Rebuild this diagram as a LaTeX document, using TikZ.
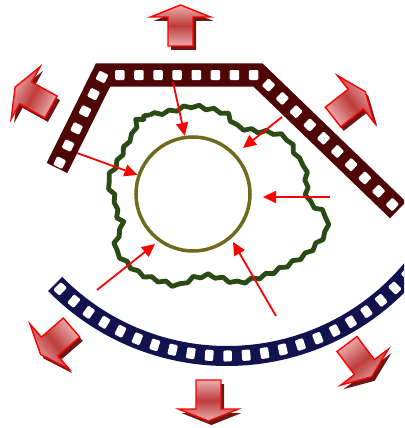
\documentclass[tikz,border=0pt]{standalone}
\usetikzlibrary{arrows.meta,decorations.markings,decorations.pathmorphing}
\definecolor{maroonband}{HTML}{4F0606}
\definecolor{navyband}{HTML}{12124E}
\definecolor{blobgreen}{HTML}{2A4A16}
\definecolor{coreolive}{HTML}{6E6A1E}
\definecolor{arrlight}{HTML}{EBB0B0}
\definecolor{arrdark}{HTML}{BE3C3C}
\definecolor{arrshadow}{HTML}{6A1818}
\tikzset{
  hole/.style 2 args={fill=white, rounded corners=1.2pt, minimum width=#1, minimum height=#2, inner sep=0pt, transform shape},
  thinarrow/.style={draw=red, line width=1.8pt, -{Triangle[length=13pt,width=12pt]}},
  corering/.style={draw=coreolive, line width=3.5pt, circle, minimum size=114pt, inner sep=0pt},
}
\newcommand\bigarrowat[3]{%
  \pgfmathsetmacro\myshadeang{#3-90}%
  \begin{scope}[shift={(#1+3,#2+4)}, rotate=#3]
    \fill[arrshadow] (0,-12.5) -- (29,-12.5) -- (29,-30) -- (41,0) -- (29,30) -- (29,12.5) -- (0,12.5) -- cycle;
  \end{scope}
  \begin{scope}[shift={(#1,#2)}, rotate=#3]
    \shade[top color=arrlight, bottom color=arrlight, middle color=arrdark, shading angle=\myshadeang]
      (0,-12.5) -- (29,-12.5) -- (29,-30) -- (41,0) -- (29,30) -- (29,12.5) -- (0,12.5) -- cycle;
    \draw[red, line width=1.4pt, line join=miter]
      (0,-12.5) -- (29,-12.5) -- (29,-30) -- (41,0) -- (29,30) -- (29,12.5) -- (0,12.5) -- cycle;
  \end{scope}}
\begin{document}
\begin{tikzpicture}[x=1pt, y=-1pt]
\useasboundingbox (0,0) rectangle (404,428);
\clip (0,0) rectangle (404,428);
\fill[white] (0,0) rectangle (404,428);

% top maroon band
\draw[maroonband, line width=23pt, line join=miter,
  postaction={decorate, decoration={markings,
    mark=between positions 6pt and 447pt step 19.1pt with {\node[hole={9.5pt}{10pt}] {};}}}]
  (57,168) -- (103,75) -- (258,75) -- (398,210);

% bottom navy band
\draw[navyband, line width=20pt,
  postaction={decorate, decoration={markings,
    mark=between positions 7pt and 400pt step 18.5pt with {\node[hole={8.5pt}{11pt}] {};}}}]
  (227,115) ++(135.5:241) arc[start angle=135.5, end angle=38, radius=241];

% wavy green outline
\draw[blobgreen, line width=4.8pt, line join=round, decorate, decoration={snake, amplitude=1.6pt, segment length=15pt}]
  plot[smooth cycle, tension=0.5] coordinates {
  (132,118) (150,115) (167,112) (187,107) (207,110) (223,115) (233,127) (253,132)
  (271,134) (285,141) (293,157) (300,165) (302,180) (303,198) (312,207) (321,214)
  (321,230) (313,241) (303,251) (287,261) (267,271) (250,277) (233,281) (217,277)
  (203,274) (187,277) (173,284) (160,281) (147,277) (133,271) (117,257) (110,247)
  (113,234) (117,224) (110,213) (108,198) (101,180) (110,163) (120,143) (127,132)};

% inner ring
\node[corering] (core) at (193,194) {};

% thin red arrows
\coordinate (t1) at (173,82);
\coordinate (t2) at (282,117);
\coordinate (h2) at (243,148);
\coordinate (t3) at (77,153);
\coordinate (t4) at (330,197);
\coordinate (h4) at (263,197);
\coordinate (t5) at (97,290);
\coordinate (h5) at (155,244);
\coordinate (t6) at (276,316);
\coordinate (h6) at (233,242);
\draw[thinarrow] (t1) -- (core.98);
\draw[thinarrow] (t2) -- (h2);
\draw[thinarrow] (t3) -- (core.161);
\draw[thinarrow] (t4) -- (h4);
\draw[thinarrow] (t5) -- (h5);
\draw[thinarrow] (t6) -- (h6);

% big block arrows
\bigarrowat{180.5}{46}{90}
\bigarrowat{208.5}{380}{270}
\bigarrowat{51}{107}{151}
\bigarrowat{333}{117}{38}
\bigarrowat{71.5}{327.5}{221}
\bigarrowat{347}{344}{307}
\end{tikzpicture}
\end{document}
